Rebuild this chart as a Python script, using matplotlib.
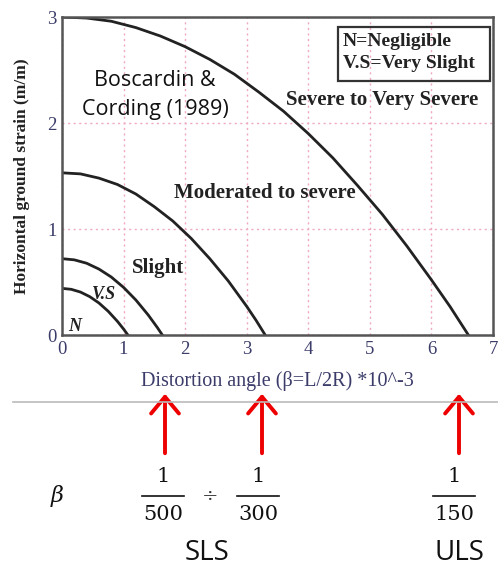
import matplotlib
matplotlib.use("Agg")
import matplotlib.pyplot as plt
from matplotlib.patches import FancyArrowPatch, Rectangle
from matplotlib.lines import Line2D

# ---------------- data ----------------
severe_x = [0, 0.4, 0.8, 1.2, 1.6, 2.0, 2.4, 2.8, 3.2, 3.6, 4.0, 4.4, 4.8, 5.2, 5.6, 6.0, 6.3, 6.6]
severe_y = [3.0, 2.99, 2.96, 2.90, 2.82, 2.72, 2.60, 2.46, 2.29, 2.11, 1.90, 1.67, 1.41, 1.14, 0.84, 0.52, 0.27, 0.0]

moderate_x = [0, 0.3, 0.6, 0.9, 1.2, 1.5, 1.8, 2.1, 2.4, 2.7, 3.0, 3.15, 3.3]
moderate_y = [1.53, 1.52, 1.48, 1.42, 1.33, 1.21, 1.075, 0.91, 0.72, 0.51, 0.27, 0.14, 0.0]

slight_x = [0, 0.2, 0.4, 0.6, 0.8, 1.0, 1.2, 1.4, 1.55, 1.63]
slight_y = [0.72, 0.709, 0.677, 0.622, 0.547, 0.449, 0.330, 0.189, 0.069, 0.0]

vs_x = [0, 0.15, 0.3, 0.45, 0.6, 0.75, 0.9, 1.0, 1.07]
vs_y = [0.44, 0.431, 0.405, 0.362, 0.302, 0.224, 0.129, 0.056, 0.0]

x_ticks = [0, 1, 2, 3, 4, 5, 6, 7]
y_ticks = [0, 1, 2, 3]

# ---------------- figure ----------------
W, H = 498, 568
fig = plt.figure(figsize=(W / 100, H / 100), dpi=100)
fig.patch.set_facecolor("white")

def fx(px):
    return px / W

def fy(py):
    return 1 - py / H

ax_l, ax_r, ax_t, ax_b = 62, 493, 17, 335
ax = fig.add_axes([fx(ax_l), fy(ax_b), (ax_r - ax_l) / W, (ax_b - ax_t) / H])
ax.set_xlim(0, 7)
ax.set_ylim(0, 3)

serif = "Liberation Serif"
tick_col = "#3c3c6a"

ax.set_xticks(x_ticks)
ax.set_yticks(y_ticks)
ax.set_xticklabels([str(t) for t in x_ticks], fontfamily=serif, fontsize=13.5, color=tick_col)
ax.set_yticklabels([str(t) for t in y_ticks], fontfamily=serif, fontsize=13.5, color=tick_col)
ax.tick_params(length=0, pad=4)

for s in ax.spines.values():
    s.set_color("#555555")
    s.set_linewidth(1.8)

ax.grid(True, color="#f0a8c0", linestyle=(0, (1.5, 2.5)), linewidth=1.0)
ax.set_axisbelow(True)

lc = "#222222"
lw = 2.0
for xs, ys in [(severe_x, severe_y), (moderate_x, moderate_y), (slight_x, slight_y), (vs_x, vs_y)]:
    ax.plot(xs, ys, color=lc, lw=lw, solid_joinstyle="round")

bold = dict(fontfamily=serif, fontweight="bold", color="#222222")
ax.text(5.2, 2.22, "Severe to Very Severe", ha="center", va="center", fontsize=15, **bold)
ax.text(3.3, 1.34, "Moderated to severe", ha="center", va="center", fontsize=15, **bold)
ax.text(1.56, 0.63, "Slight", ha="center", va="center", fontsize=15, **bold)
ax.text(0.68, 0.38, "V.S", ha="center", va="center", fontsize=13, style="italic", **bold)
ax.text(0.2, 0.08, "N", ha="center", va="center", fontsize=13, style="italic", **bold)

ax.text(0.216, 0.755, "Boscardin &\nCording (1989)", transform=ax.transAxes,
        ha="center", va="center", fontsize=15.5, fontfamily="Open Sans",
        color="#111111", linespacing=1.45)

# legend box
box = Rectangle((fx(338), fy(81)), (490 - 338) / W, (81 - 27) / H, transform=fig.transFigure,
                fill=False, edgecolor="#333333", linewidth=1.6)
fig.add_artist(box)
fig.text(fx(343), fy(41), "N=Negligible", ha="left", va="center", fontsize=14, **bold)
fig.text(fx(343), fy(63), "V.S=Very Slight", ha="left", va="center", fontsize=14, **bold)

ax.set_ylabel("Horizontal ground strain (m/m)", fontfamily=serif, fontweight="bold",
              fontsize=12.5, color="#222222", labelpad=12)
ax.set_xlabel("Distortion angle (\u03b2=L/2R) *10^-3", fontfamily=serif,
              fontsize=14.5, color=tick_col, labelpad=10)

# separator line
fig.add_artist(Line2D([fx(13), fx(498)], [fy(402), fy(402)], transform=fig.transFigure,
                      color="#bbbbbb", lw=1.2))

# red arrows
for px in [165, 262, 459]:
    arr = FancyArrowPatch((fx(px), fy(456)), (fx(px), fy(391)), transform=fig.transFigure,
                          arrowstyle="->,head_length=0.6,head_width=0.5", color="#ee0000",
                          lw=2.8, mutation_scale=20)
    fig.add_artist(arr)

# bottom formula
math_font = "DejaVu Serif"
fig.text(fx(57), fy(496), "\u03b2", ha="center", va="center", fontsize=16,
         fontfamily=math_font, style="italic", color="#111111")

def frac(cx, den):
    fig.text(fx(cx), fy(477), "1", ha="center", va="center", fontsize=15,
             fontfamily=math_font, color="#111111")
    fig.add_artist(Line2D([fx(cx - 21), fx(cx + 21)], [fy(496), fy(496)],
                          transform=fig.transFigure, color="#111111", lw=1.2))
    fig.text(fx(cx), fy(514), den, ha="center", va="center", fontsize=15,
             fontfamily=math_font, color="#111111")

frac(163, "500")
frac(258, "300")
frac(454, "150")
fig.text(fx(210), fy(496), "\u00f7", ha="center", va="center", fontsize=14,
         fontfamily=math_font, color="#333333")

fig.text(fx(207), fy(553), "SLS", ha="center", va="center", fontsize=20,
         fontfamily="Open Sans", color="#111111")
fig.text(fx(459), fy(553), "ULS", ha="center", va="center", fontsize=20,
         fontfamily="Open Sans", color="#111111")

fig.savefig("out.png", dpi=100, facecolor="white")
